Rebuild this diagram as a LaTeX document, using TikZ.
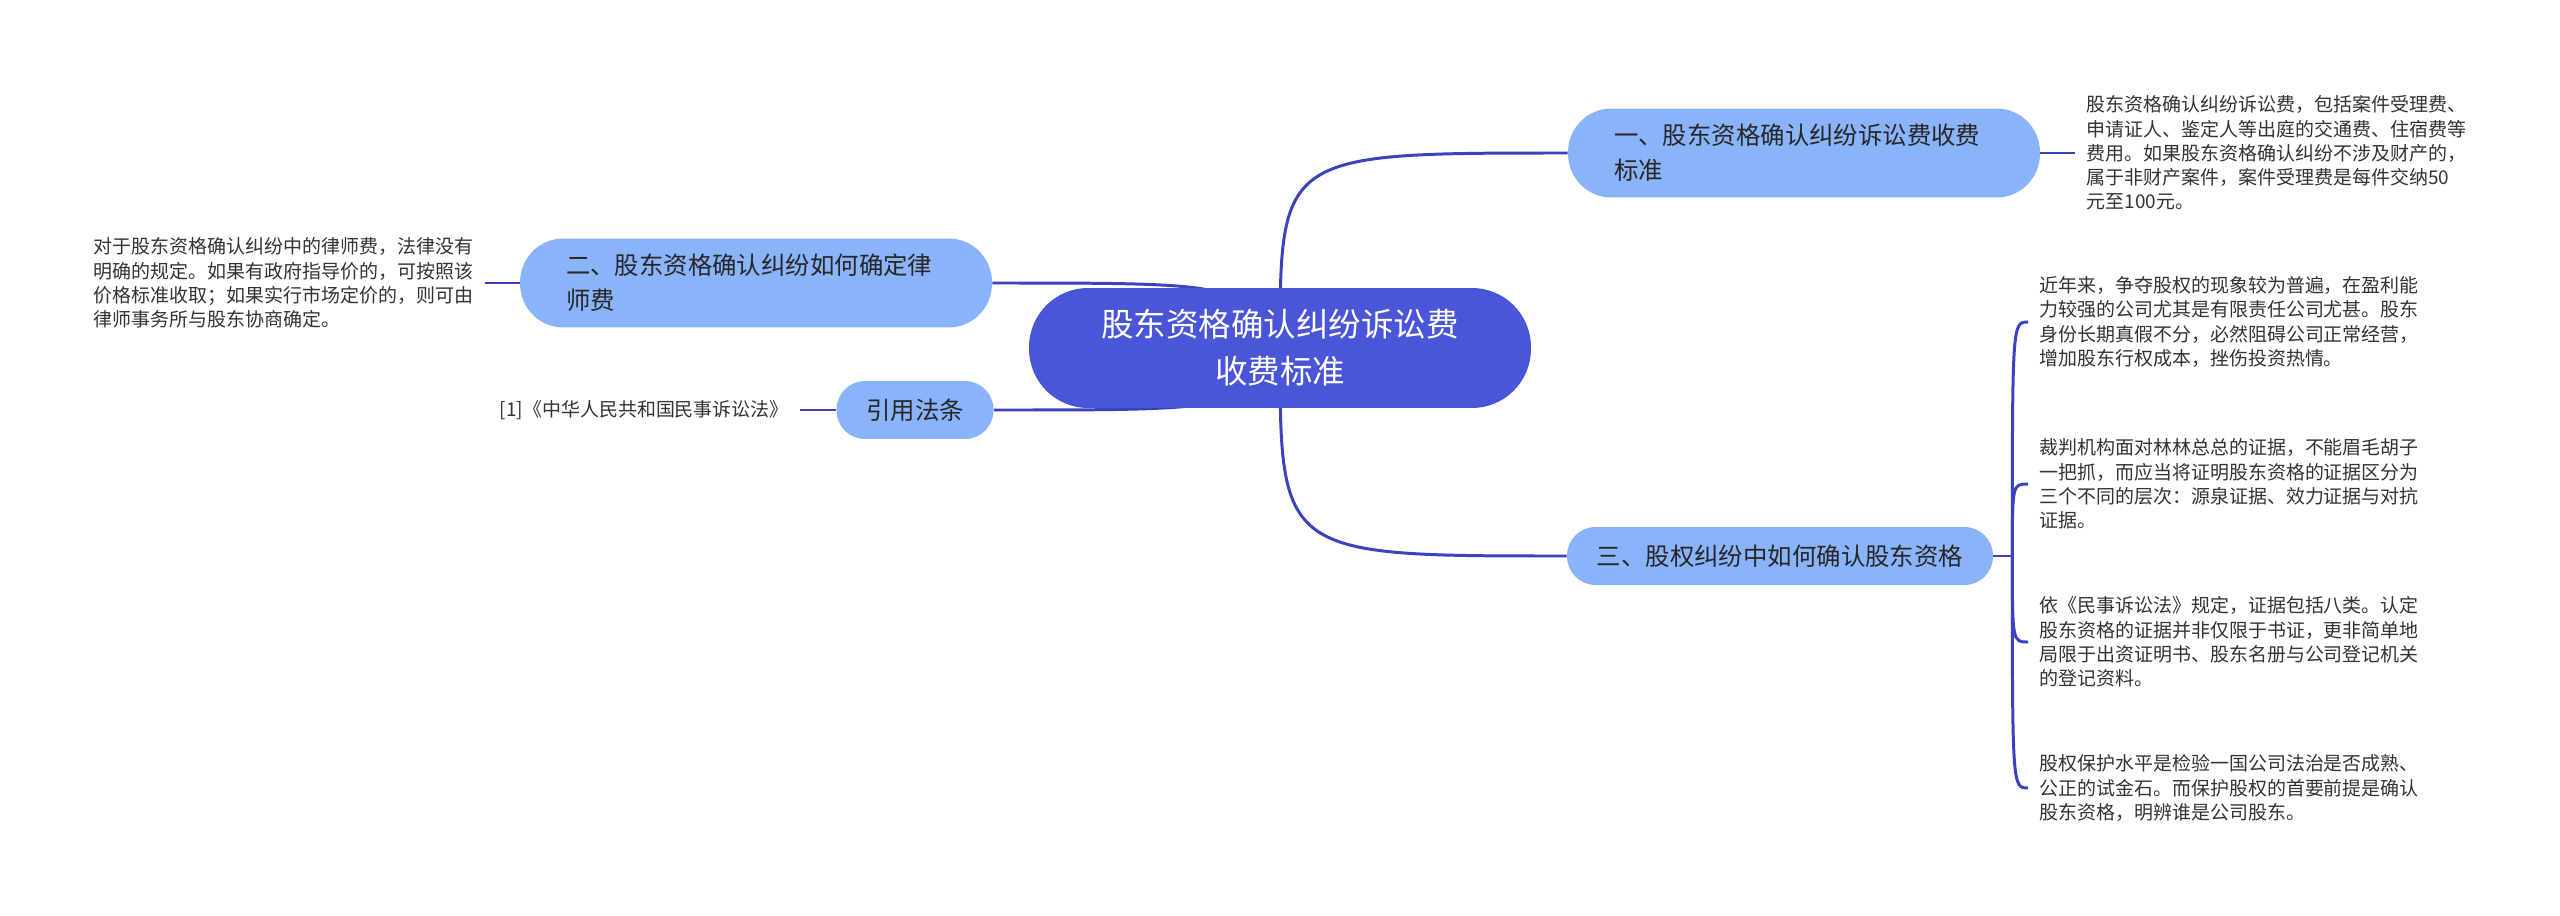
\documentclass[tikz,border=0pt]{standalone}
\usepackage{fontspec}
\setmainfont{Noto Sans CJK SC}
\usepackage{tikz}
\usetikzlibrary{positioning, backgrounds}

\definecolor{rootblue}{RGB}{75,85,215}
\definecolor{topicblue}{RGB}{138,180,250}
\definecolor{linkblue}{RGB}{58,66,190}
\definecolor{leafgray}{RGB}{51,51,51}

\begin{document}
\begin{tikzpicture}[
    x=0.02cm, y=-0.02cm,
    root/.style={fill=rootblue, text=white, align=center, rounded corners=1.18cm,
        minimum width=10.04cm, minimum height=2.4cm, font=\fontsize{18.5}{26.7}\selectfont},
    topic/.style={fill=topicblue, text=black!85, align=left, text width=7.6cm, inner xsep=0.92cm,
        minimum height=1.78cm, rounded corners=0.87cm, font=\fontsize{13.9}{20}\selectfont},
    topicline/.style={fill=topicblue, text=black!85, align=center, minimum height=1.16cm,
        rounded corners=0.57cm, font=\fontsize{13.9}{20}\selectfont},
    leaf/.style={text=leafgray, align=left, inner xsep=0.22cm, font=\fontsize{10.8}{13.8}\selectfont},
    link/.style={draw=linkblue, line width=1.7pt}
]
\useasboundingbox (0,0) rectangle (2560,916);

% main topics
\node[root] (root) at (1280,348) {股东资格确认纠纷诉讼费\\收费标准};
\node[topic] (n1) at (1804,153) {一、股东资格确认纠纷诉讼费收费\\标准};
\node[topic] (n2) at (756,283) {二、股东资格确认纠纷如何确定律\\师费};
\node[topicline, minimum width=3.14cm] (cite) at (915,410) {引用法条};
\node[topicline, minimum width=8.52cm] (n3) at (1780,556) {三、股权纠纷中如何确认股东资格};

% leaves
\node[leaf, right=0.7cm of n1] (l1) {股东资格确认纠纷诉讼费，包括案件受理费、\\申请证人、鉴定人等出庭的交通费、住宿费等\\费用。如果股东资格确认纠纷不涉及财产的，\\属于非财产案件，案件受理费是每件交纳50\\元至100元。};
\node[leaf, left=0.7cm of n2] (l2) {对于股东资格确认纠纷中的律师费，法律没有\\明确的规定。如果有政府指导价的，可按照该\\价格标准收取；如果实行市场定价的，则可由\\律师事务所与股东协商确定。};
\node[leaf, left=0.72cm of cite] (lcite) {[1]《中华人民共和国民事诉讼法》};

\coordinate[right=0.38cm of n3] (fork);
\node[leaf, anchor=west] (l3a) at (2028,322) {近年来，争夺股权的现象较为普遍，在盈利能\\力较强的公司尤其是有限责任公司尤甚。股东\\身份长期真假不分，必然阻碍公司正常经营，\\增加股东行权成本，挫伤投资热情。};
\node[leaf, anchor=west] (l3b) at (2028,484) {裁判机构面对林林总总的证据，不能眉毛胡子\\一把抓，而应当将证明股东资格的证据区分为\\三个不同的层次：源泉证据、效力证据与对抗\\证据。};
\node[leaf, anchor=west] (l3c) at (2028,642) {依《民事诉讼法》规定，证据包括八类。认定\\股东资格的证据并非仅限于书证，更非简单地\\局限于出资证明书、股东名册与公司登记机关\\的登记资料。};
\node[leaf, anchor=west] (l3d) at (2028,788) {股权保护水平是检验一国公司法治是否成熟、\\公正的试金石。而保护股权的首要前提是确认\\股东资格，明辨谁是公司股东。};

% connectors
\begin{pgfonlayer}{background}
\fill[white] (0,0) rectangle (2560,916);
\coordinate (rootl) at ([xshift=-0.8cm]root.center);
\draw[link] (root.center) .. controls (root.center |- n1.west) .. (n1.west);
\draw[link] (root.center) .. controls (root.center |- n3.west) .. (n3.west);
\draw[link] (root.center) .. controls (rootl |- n2.east) .. (n2.east);
\draw[link] (root.center) .. controls (rootl |- cite.east) .. (cite.east);
\draw[link] (n1.east) -- (l1.west);
\draw[link] (n2.west) -- (l2.east);
\draw[link] (cite.west) -- (lcite.east);
\draw[link] (n3.east) -- (fork);
\foreach \leafname in {l3a, l3b, l3c, l3d}
    \draw[link] (fork) .. controls (fork |- \leafname.west) .. (\leafname.west);
\end{pgfonlayer}
\end{tikzpicture}
\end{document}
